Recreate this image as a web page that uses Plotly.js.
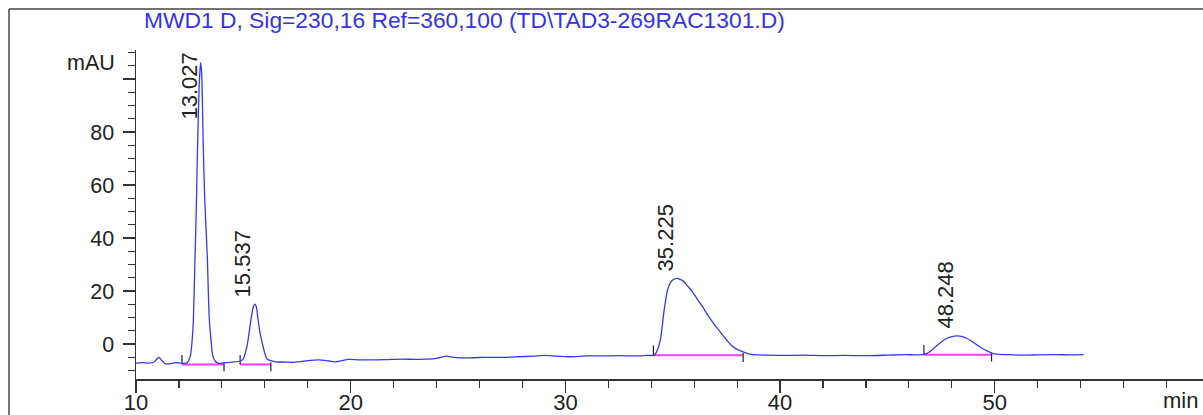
<!DOCTYPE html>
<html>
<head>
<meta charset="utf-8">
<script src="https://cdn.plot.ly/plotly-3.0.1.min.js"></script>
<style>
html,body{margin:0;padding:0;background:#fff;}
#chart{width:1203px;height:415px;}
</style>
</head>
<body>
<div id="chart"></div>
<script>
// Chromatogram trace (time in min, signal in mAU)
const time = [
  10.0, 10.3, 10.6, 10.85, 11.0, 11.08, 11.2, 11.35, 11.5, 11.8, 12.0, 12.2, 12.36,
  12.45, 12.54, 12.6, 12.67, 12.74, 12.8, 12.85, 12.9, 12.95, 13.01, 13.06, 13.13, 13.2, 13.32, 13.41, 13.5, 13.57, 13.7, 13.81, 13.95,
  14.2, 14.5, 14.87,
  15.0, 15.1, 15.22, 15.35, 15.45, 15.53, 15.6, 15.69, 15.77, 15.85, 15.95, 16.08, 16.2, 16.31,
  16.5, 17.0, 17.3, 17.8, 18.5, 19.0, 19.3, 19.9, 20.4, 20.9, 21.6, 22.4, 23.0, 23.5, 24.0, 24.45, 24.8,
  25.5, 26.2, 27.1, 27.8, 28.5, 29.1, 29.6, 30.2, 31.0, 31.7, 32.5, 33.3, 33.8, 34.14,
  34.3, 34.45, 34.6, 34.76, 34.9, 35.0, 35.22, 35.4, 35.53, 35.7, 35.92, 36.15, 36.39, 36.6, 36.85, 37.1, 37.32, 37.55, 37.78, 38.0, 38.25, 38.5, 38.71, 39.0,
  39.5, 40.2, 41.2, 42.0, 43.0, 44.0, 45.0, 45.85, 46.3, 46.7,
  47.0, 47.24, 47.5, 47.71, 48.0, 48.25, 48.5, 48.71, 48.95, 49.18, 49.4, 49.57, 49.88, 50.2, 50.65,
  51.27, 52.0, 52.82, 53.5, 54.14
];
const signal = [
  -7.2, -7.0, -7.2, -6.8, -5.4, -5.0, -6.2, -7.4, -7.5, -7.1, -7.1, -7.3, -7.2,
  -6.3, -4.2, 0.0, 8.3, 30.0, 48.0, 68.0, 85.0, 99.0, 106.3, 102.0, 76.0, 55.0, 33.0, 10.0, 1.0, -4.2, -6.6, -7.2, -7.3,
  -7.0, -6.8, -6.4,
  -5.6, -3.2, 1.5, 9.0, 13.6, 15.1, 14.2, 9.0, 4.5, 1.5, -2.0, -5.4, -6.1, -6.3,
  -6.7, -6.8, -6.9, -6.5, -6.0, -6.4, -6.7, -5.8, -6.0, -6.0, -5.9, -5.7, -5.8, -5.7, -5.4, -4.6, -5.0,
  -5.2, -5.0, -5.0, -4.8, -4.6, -4.3, -4.6, -4.8, -4.5, -4.5, -4.4, -4.5, -4.3, -4.2,
  -2.0, 2.8, 12.8, 20.4, 23.3, 24.2, 24.8, 24.2, 23.5, 21.8, 19.7, 16.9, 14.1, 11.3, 8.4, 5.7, 3.4, 1.1, -0.8, -2.0, -2.9, -3.6, -4.0, -4.1,
  -4.2, -4.3, -4.2, -4.4, -4.3, -4.4, -4.2, -4.0, -4.1, -3.9,
  -2.8, -1.0, 0.7, 1.9, 2.8, 3.1, 2.8, 2.1, 0.9, -0.4, -1.6, -2.3, -3.5, -3.9, -4.0,
  -4.2, -4.1, -4.0, -4.1, -4.0
];

// Peaks
const peakRT = [13.027, 15.537, 35.225, 48.248];
const peakLabels = ["13.027", "15.537", "35.225", "48.248"];
// Integration baselines
const intStart = [12.14, 14.85, 34.1, 46.7];
const intEnd = [14.1, 16.28, 38.28, 49.85];
const intLevel = [-7.7, -7.7, -4.2, -4.0];

// Axis ticks
const xTickVals = [10, 20, 30, 40, 50];
const xTickText = ["10", "20", "30", "40", "50"];
const yTickVals = [0, 20, 40, 60, 80, 100];
const yTickText = ["0", "20", "40", "60", "80", ""];

const titleText = "MWD1 D, Sig=230,16 Ref=360,100 (TD\\TAD3-269RAC1301.D)";
const yUnit = "mAU";
const xUnit = "min";

// Build integration baseline segments and markers
const bx = [], by = [], tx = [], ty = [];
for (let i = 0; i < intStart.length; i++) {
  bx.push(intStart[i], intEnd[i], null);
  by.push(intLevel[i], intLevel[i], null);
  tx.push(intStart[i], intStart[i], null, intEnd[i], intEnd[i], null);
  ty.push(intLevel[i], intLevel[i] + 3.6, null, intLevel[i] + 0.8, intLevel[i] - 2.6, null);
}

function apexNear(rt) {
  let best = -Infinity;
  for (let i = 0; i < time.length; i++) {
    if (Math.abs(time[i] - rt) < 0.3 && signal[i] > best) best = signal[i];
  }
  return best;
}

const FONT = "'Liberation Sans', Arial, sans-serif";
const TXT = "#222222";

const traces = [
  {
    x: bx, y: by, mode: "lines", hoverinfo: "skip",
    line: {color: "#ff3cff", width: 2}, showlegend: false
  },
  {
    x: tx, y: ty, mode: "lines", hoverinfo: "skip",
    line: {color: "#222222", width: 1.2}, showlegend: false
  },
  {
    x: time, y: signal, mode: "lines",
    line: {color: "rgb(55,55,255)", width: 1.3, shape: "spline", smoothing: 0.6},
    showlegend: false
  }
];

const annotations = [];
annotations.push({
  xref: "paper", yref: "paper", x: 0.0056, y: 1.09, xanchor: "left", yanchor: "middle",
  text: titleText, showarrow: false, font: {family: FONT, size: 22.8, color: "#3333ee"}
});
annotations.push({
  xref: "paper", yref: "paper", x: -0.0178, y: 0.9605, xanchor: "right", yanchor: "middle",
  text: yUnit, showarrow: false, font: {family: FONT, size: 21.5, color: TXT}
});
annotations.push({
  xref: "paper", yref: "paper", x: 0.961, y: -0.022, xanchor: "left", yanchor: "top",
  text: xUnit, showarrow: false, font: {family: FONT, size: 22, color: TXT}
});
for (let i = 0; i < peakRT.length; i++) {
  const h = apexNear(peakRT[i]);
  if (h > 90) {
    annotations.push({
      x: peakRT[i], xref: "x", yref: "paper", y: 1.0, xanchor: "center", yanchor: "top",
      xshift: -11, textangle: -90, text: peakLabels[i], showarrow: false,
      font: {family: FONT, size: 22, color: TXT}
    });
  } else {
    annotations.push({
      x: peakRT[i], y: h, xanchor: "center", yanchor: "bottom",
      xshift: -12, yshift: 5, textangle: -90, text: peakLabels[i], showarrow: false,
      font: {family: FONT, size: 22, color: TXT}
    });
  }
}

// Frame lines (paper coordinates relative to plot area)
const shapes = [
  {type: "line", xref: "paper", yref: "paper", x0: -0.1190, x1: -0.1190, y0: -0.2, y1: 1.1246,
   line: {color: "#444", width: 1.5}},
  {type: "line", xref: "paper", yref: "paper", x0: -0.1190, x1: 1.05, y0: 1.1246, y1: 1.1246,
   line: {color: "#444", width: 1.5}}
];

const layout = {
  width: 1203, height: 415,
  margin: {l: 136, r: 0, t: 50, b: 36, pad: 0},
  paper_bgcolor: "#ffffff", plot_bgcolor: "#ffffff",
  font: {family: FONT, color: TXT, size: 21},
  showlegend: false,
  xaxis: {
    range: [10, 59.7], showgrid: false, zeroline: false,
    showline: true, linecolor: "#333", linewidth: 1.5,
    ticks: "outside", ticklen: 12, tickwidth: 1.3, tickcolor: "#333",
    tickmode: "array", tickvals: xTickVals, ticktext: xTickText,
    ticklabelstandoff: -9,
    tickfont: {family: FONT, size: 22, color: TXT},
    minor: {dtick: 2, tick0: 10, ticks: "outside", ticklen: 7, tickwidth: 1.2, tickcolor: "#333", showgrid: false}
  },
  yaxis: {
    range: [-13.2, 111], showgrid: false, zeroline: false,
    showline: true, linecolor: "#333", linewidth: 1.5,
    ticks: "outside", ticklen: 12, tickwidth: 1.3, tickcolor: "#333",
    tickmode: "array", tickvals: yTickVals, ticktext: yTickText,
    ticklabelstandoff: 4,
    tickfont: {family: FONT, size: 21.5, color: TXT},
    minor: {dtick: 5, tick0: 0, ticks: "outside", ticklen: 7, tickwidth: 1.2, tickcolor: "#333", showgrid: false}
  },
  annotations: annotations,
  shapes: shapes
};

Plotly.newPlot("chart", traces, layout, {displayModeBar: false, staticPlot: true});
</script>
</body>
</html>
